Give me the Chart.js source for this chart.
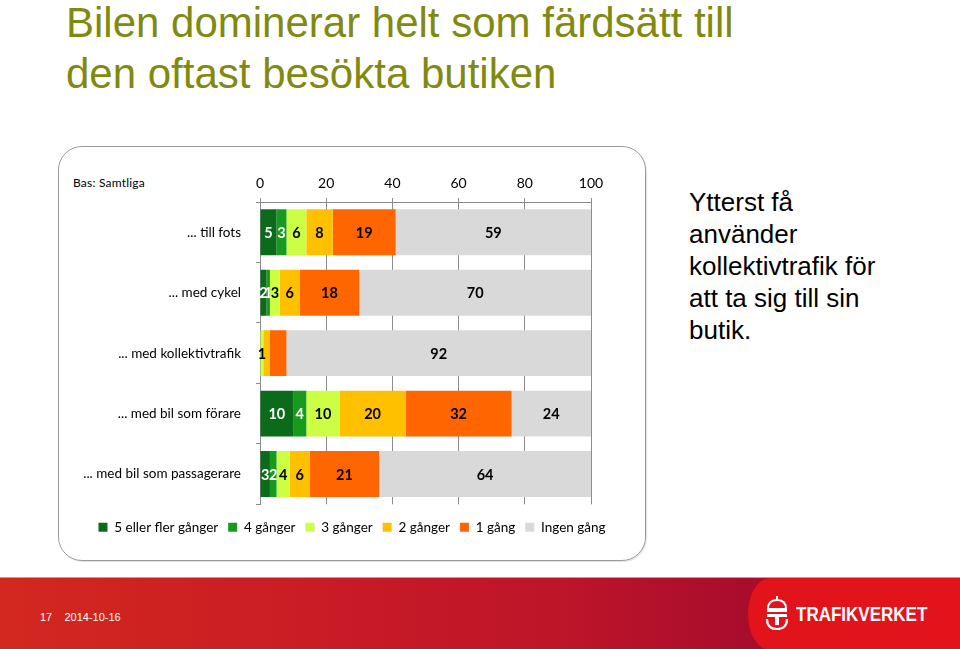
<!DOCTYPE html>
<html>
<head>
<meta charset="utf-8">
<script src="https://cdn.jsdelivr.net/npm/chart.js@4/dist/chart.umd.min.js"></script>
<style>
  html, body { margin: 0; padding: 0; background: #fff; }
  body { width: 960px; height: 649px; position: relative; overflow: hidden; }
  #title { position: absolute; left: 66px; top: -3px; font-family: "Liberation Sans", Arial, sans-serif; font-size: 42px; line-height: 51px; color: #7f8a0e; white-space: nowrap; }
  #box { position: absolute; left: 58px; top: 146px; width: 586px; height: 413px; border: 1px solid #9a9a9a; border-radius: 24px; box-shadow: 1px 1px 1px rgba(0,0,0,0.12); }
  #chartwrap { position: absolute; left: 58px; top: 146px; width: 588px; height: 415px; }
  #bas { position: absolute; left: 73px; top: 175px; font-family: Lato, "Open Sans", sans-serif; font-size: 12px; color: #000; letter-spacing: 0.2px; }
  #note { position: absolute; left: 689px; top: 186px; font-family: "Liberation Sans", Arial, sans-serif; font-size: 26px; line-height: 32px; color: #000; }
  #footer { position: absolute; left: 0; top: 577px; width: 960px; height: 72px; background: linear-gradient(to right, #d3281e 0%, #c81b26 35%, #bc1429 60%, #a80d2c 78%); border-top: 1px solid #ee8a86; box-sizing: border-box; }
  #panel { position: absolute; left: 748px; top: 0; width: 212px; height: 72px; background: #e3131b; border-radius: 22px 0 0 22px / 50% 0 0 50%; }
  #pg { position: absolute; left: 40px; top: 33px; font-family: "Liberation Sans", Arial, sans-serif; font-size: 11px; color: #fff; }
  #logo { position: absolute; left: 796px; top: 24px; font-family: "Liberation Sans", Arial, sans-serif; font-weight: bold; font-size: 21px; color: #fff; transform: scaleX(0.81); transform-origin: left center; }
  #emblem { position: absolute; left: 764px; top: 17px; }
</style>
</head>
<body>
<div id="title">Bilen dominerar helt som färdsätt till<br>den oftast besökta butiken</div>
<div id="box"></div>
<div id="bas">Bas: Samtliga</div>
<div id="chartwrap"><canvas id="c" width="588" height="415"></canvas></div>
<div id="note">Ytterst få<br>använder<br>kollektivtrafik för<br>att ta sig till sin<br>butik.</div>
<div id="footer">
  <div id="pg">17&nbsp;&nbsp;&nbsp;&nbsp;2014-10-16</div>
  <div id="panel"></div>
  <svg id="emblem" width="26" height="36" viewBox="0 0 26 36">
    <path d="M4 14 Q4 5 13 5 Q22 5 22 14 Z" fill="none" stroke="#fff" stroke-width="2"/>
    <line x1="13" y1="1" x2="13" y2="6" stroke="#fff" stroke-width="2"/>
    <rect x="3" y="14" width="20" height="3" fill="#fff"/>
    <path d="M3 19 L23 19 L23 22 L15 22 L15 30 L11 30 L11 22 L3 22 Z" fill="#fff"/>
    <path d="M3 24 Q3 34 13 34 Q23 34 23 24" fill="none" stroke="#fff" stroke-width="2.2"/>
  </svg>
  <div id="logo">TRAFIKVERKET</div>
</div>
<script>
const categories = ['... till fots', '... med cykel', '... med kollektivtrafik', '... med bil som förare', '... med bil som passagerare'];
const seriesNames = ['5 eller fler gånger', '4 gånger', '3 gånger', '2 gånger', '1 gång', 'Ingen gång'];
const fivePlus = [5, 2, 0, 10, 3];
const four = [3, 1, 0, 4, 2];
const three = [6, 3, 1, 10, 4];
const two = [8, 6, 2, 20, 6];
const one = [19, 18, 5, 32, 21];
const never = [59, 70, 92, 24, 64];
const xTicks = [0, 20, 40, 60, 80, 100];
// data labels not shown in the original (category index, series index)
const hiddenLabels = [[2, 3], [2, 4]];

const colors = ['#0b6b1a', '#179a1e', '#ccff44', '#ffc000', '#ff6600', '#d9d9d9'];
const labelColors = ['#ffffff', '#ffffff', '#000000', '#000000', '#000000', '#000000'];
const seriesData = [fivePlus, four, three, two, one, never];

const FONT = 'Lato, "Open Sans", sans-serif';

const labelPlugin = {
  id: 'barLabels',
  afterDatasetsDraw(chart) {
    const ctx = chart.ctx;
    ctx.save();
    ctx.font = 'bold 14.5px ' + FONT;
    ctx.textAlign = 'center';
    ctx.textBaseline = 'middle';
    chart.data.datasets.forEach((ds, di) => {
      const meta = chart.getDatasetMeta(di);
      meta.data.forEach((el, i) => {
        const v = ds.data[i];
        if (!v) return;
        if (hiddenLabels.some(h => h[0] === i && h[1] === di)) return;
        const cx = (el.x + el.base) / 2;
        ctx.fillStyle = labelColors[di];
        ctx.fillText(String(v), cx, el.y + 1);
      });
    });
    ctx.restore();
  }
};

new Chart(document.getElementById('c'), {
  type: 'bar',
  data: {
    labels: categories,
    datasets: seriesData.map((d, i) => ({
      label: seriesNames[i],
      data: d,
      backgroundColor: colors[i],
      borderWidth: 0,
      barPercentage: 0.76,
      categoryPercentage: 1.0
    }))
  },
  options: {
    indexAxis: 'y',
    responsive: false,
    devicePixelRatio: 1,
    animation: false,
    layout: { padding: { left: 0, right: 0, top: 26, bottom: 17 } },
    plugins: {
      legend: {
        position: 'bottom',
        title: { display: true, text: ' ', font: { size: 1 }, padding: { top: 0, bottom: 5 } },
        labels: {
          boxWidth: 9, boxHeight: 9, padding: 10,
          color: '#000',
          font: { family: FONT, size: 13.5 }
        }
      },
      tooltip: { enabled: false }
    },
    scales: {
      x: {
        position: 'top',
        stacked: true,
        min: 0, max: 100,
        afterBuildTicks: s => { s.ticks = xTicks.map(v => ({ value: v })); },
        afterFit: s => { s.height = 30; },
        ticks: { color: '#000', font: { family: FONT, size: 14 }, padding: 6 },
        grid: { color: '#8c8c8c', lineWidth: 1, tickLength: 4, drawOnChartArea: true },
        border: { display: true, color: '#8c8c8c' }
      },
      y: {
        stacked: true,
        afterFit: s => { s.width = 202; },
        ticks: { color: '#000', font: { family: FONT, size: 13.5 }, padding: 15 },
        grid: { drawOnChartArea: false, color: '#8c8c8c', tickLength: 4, offset: true },
        border: { display: true, color: '#8c8c8c' }
      },
      yR: {
        type: 'category',
        position: 'right',
        display: true,
        afterFit: s => { s.width = 55; },
        ticks: { display: false },
        grid: { display: false },
        border: { display: false }
      }
    }
  },
  plugins: [labelPlugin]
});
</script>
</body>
</html>
